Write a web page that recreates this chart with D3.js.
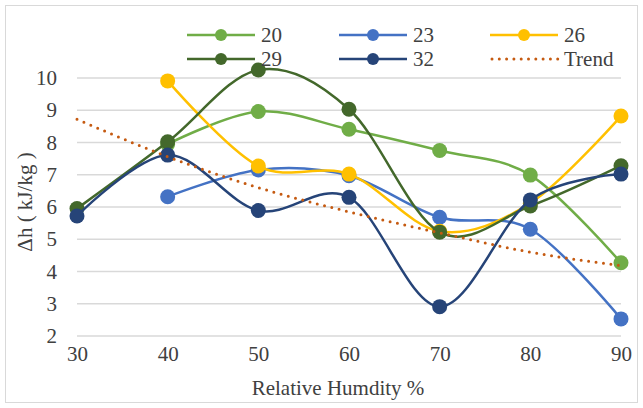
<!DOCTYPE html>
<html>
<head>
<meta charset="utf-8">
<script src="https://cdn.jsdelivr.net/npm/d3@7"></script>
<style>
  body { margin: 0; background: #fff; }
  #chart text { font-family: "Liberation Serif", "Times New Roman", serif !important; }
</style>
</head>
<body>
<svg id="chart" width="643" height="408" font-family="Liberation Serif"></svg>
<script>
// humidity values on the x axis
const humidity = [30, 40, 50, 60, 70, 80, 90];

// delta h for each series (null = no point)
const s20 = [null, 7.95, 8.96, 8.41, 7.75, 6.99, 4.27];
const s23 = [null, 6.32, 7.15, 6.97, 5.68, 5.31, 2.53];
const s26 = [null, 9.91, 7.27, 7.02, 5.25, 6.12, 8.82];
const s29 = [5.95, 8.02, 10.25, 9.03, 5.22, 6.03, 7.28];
const s32 = [5.72, 7.61, 5.89, 6.30, 2.91, 6.22, 7.02];
const trend = [8.72, 7.56, 6.60, 5.85, 5.20, 4.60, 4.18];

const seriesNames = ["20", "23", "26", "29", "32"];
const seriesColors = ["#70AD47", "#4472C4", "#FFC000", "#43682B", "#264478"];
const yTicks = [2, 3, 4, 5, 6, 7, 8, 9, 10];

const FONT = "Liberation Serif";
const TEXT_COLOR = "#404040";

const series = [s20, s23, s26, s29, s32].map((vals, i) => ({
    name: seriesNames[i],
    color: seriesColors[i],
    points: humidity.map((h, j) => ({ x: h, y: vals[j] }))
}));

const svg = d3.select("#chart");

// chart frame
svg.append("rect")
    .attr("x", 5.5).attr("y", 5.5)
    .attr("width", 632).attr("height", 397)
    .attr("fill", "#fff")
    .attr("stroke", "#d9d9d9");

const x = d3.scaleLinear().domain([30, 90]).range([77, 621]);
const y = d3.scaleLinear().domain([2, 10]).range([336, 78]);

// gridlines
svg.append("g")
    .selectAll("line")
    .data(yTicks)
    .enter().append("line")
    .attr("x1", x(30)).attr("x2", x(90))
    .attr("y1", d => y(d)).attr("y2", d => y(d))
    .attr("stroke", "#d9d9d9")
    .attr("stroke-width", 1.5);

// y axis labels
const yAxis = svg.append("g")
    .attr("transform", `translate(${x(30) - 8},0)`)
    .call(d3.axisLeft(y).tickValues(yTicks).tickSize(0).tickPadding(12));
yAxis.select(".domain").remove();
yAxis.attr("font-family", FONT).attr("font-size", 21);
yAxis.selectAll("text").attr("fill", TEXT_COLOR).attr("font-family", FONT);

// x axis labels
const xAxis = svg.append("g")
    .attr("transform", `translate(0,${y(2)})`)
    .call(d3.axisBottom(x).tickValues(humidity).tickSize(0).tickPadding(10));
xAxis.select(".domain").remove();
xAxis.attr("font-family", FONT).attr("font-size", 21);
xAxis.selectAll("text").attr("fill", TEXT_COLOR).attr("font-family", FONT);

// axis titles
svg.append("text")
    .attr("x", 338)
    .attr("y", 395)
    .attr("text-anchor", "middle")
    .attr("fill", TEXT_COLOR)
    .attr("font-family", FONT)
    .attr("font-size", 21)
    .text("Relative Humdity %");

svg.append("text")
    .attr("transform", "translate(32,202) rotate(-90)")
    .attr("text-anchor", "middle")
    .attr("fill", TEXT_COLOR)
    .attr("font-family", FONT)
    .attr("font-size", 21)
    .text("Δh ( kJ/kg )");

const line = d3.line()
    .defined(d => d.y !== null)
    .x(d => x(d.x))
    .y(d => y(d.y))
    .curve(d3.curveCardinal.tension(0));

// series: line then markers
series.forEach(s => {
    const g = svg.append("g");
    g.append("path")
        .datum(s.points.filter(d => d.y !== null))
        .attr("d", line)
        .attr("fill", "none")
        .attr("stroke", s.color)
        .attr("stroke-width", 2.5);
    g.selectAll("circle")
        .data(s.points.filter(d => d.y !== null))
        .enter().append("circle")
        .attr("cx", d => x(d.x))
        .attr("cy", d => y(d.y))
        .attr("r", 7.5)
        .attr("fill", s.color);
});

// trend line (dotted)
svg.append("path")
    .datum(humidity.map((h, j) => ({ x: h, y: trend[j] })))
    .attr("d", d3.line().x(d => x(d.x)).y(d => y(d.y)).curve(d3.curveMonotoneX))
    .attr("fill", "none")
    .attr("stroke", "#C55A11")
    .attr("stroke-width", 3)
    .attr("stroke-linecap", "round")
    .attr("stroke-dasharray", "0,7.5");

// legend
const legendItems = seriesNames.map((n, i) => ({ name: n, color: seriesColors[i], trend: false }))
    .concat([{ name: "Trend", color: "#C55A11", trend: true }]);
const legendX = [187, 339, 490];
const legendY = [35, 59];

legendItems.forEach((item, i) => {
    const lx = legendX[i % 3];
    const ly = legendY[Math.floor(i / 3)];
    const g = svg.append("g").attr("transform", `translate(${lx},${ly})`);
    if (item.trend) {
        g.append("line")
            .attr("x1", 2).attr("x2", 68)
            .attr("stroke", item.color)
            .attr("stroke-width", 3)
            .attr("stroke-linecap", "round")
            .attr("stroke-dasharray", "0,7.3");
    } else {
        g.append("line")
            .attr("x1", 0).attr("x2", 68)
            .attr("stroke", item.color)
            .attr("stroke-width", 2.5);
        g.append("circle")
            .attr("cx", 34)
            .attr("r", 6)
            .attr("fill", item.color);
    }
    g.append("text")
        .attr("x", 74)
        .attr("dy", "0.35em")
        .attr("fill", TEXT_COLOR)
        .attr("font-family", FONT)
        .attr("font-size", 21)
        .text(item.name);
});
</script>
</body>
</html>
